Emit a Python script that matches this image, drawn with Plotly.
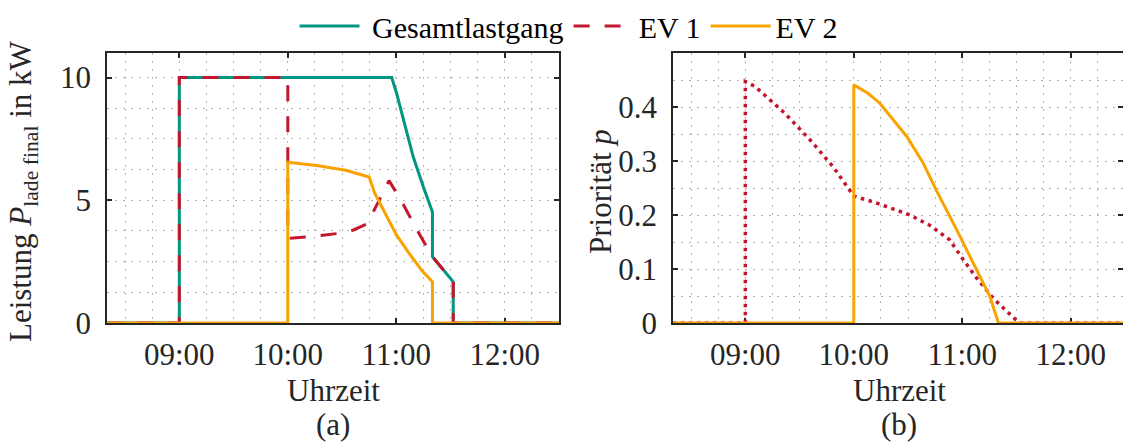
import plotly.graph_objects as go

DAY = "2023-06-01 "

# --- Ladeleistung in kW (links) ---
t_gesamt = ["08:20", "09:00", "09:00", "10:57:30", "11:00:15", "11:04", "11:09:24",
            "11:15", "11:20", "11:20", "11:31:30", "11:31:30", "12:30"]
p_gesamt = [0, 0, 10, 10, 9.34, 8.25, 6.76, 5.54, 4.52, 2.70, 1.68, 0, 0]

t_ev1 = ["08:20", "09:00", "09:00", "10:00", "10:00", "10:10", "10:28", "10:36",
         "10:44", "10:56", "11:03", "11:11", "11:20", "11:31:30", "11:31:30", "12:30"]
p_ev1 = [0, 0, 10, 10, 3.45, 3.5, 3.65, 3.78, 4.05, 5.8, 4.95, 3.85, 2.70, 1.68, 0, 0]

t_ev2 = ["08:20", "10:00", "10:00", "10:16", "10:32", "10:45", "10:48", "10:53",
         "11:00", "11:07", "11:14", "11:20", "11:20", "12:30"]
p_ev2 = [0, 0, 6.55, 6.42, 6.22, 5.95, 5.3, 4.6, 3.6, 2.85, 2.15, 1.68, 0, 0]

# --- Priorität p (rechts) ---
t_prio1 = ["08:20", "09:00", "09:00", "09:05:24", "09:22", "09:36:40", "09:48:36",
           "10:00", "10:12", "10:31", "10:42", "10:53", "11:00:36", "11:08", "11:17",
           "11:31:30", "12:30"]
prio1 = [0, 0, 0.447, 0.438, 0.388, 0.336, 0.289, 0.235, 0.223, 0.200, 0.181,
         0.154, 0.117, 0.083, 0.046, 0, 0]

t_prio2 = ["08:20", "10:00", "10:00", "10:08", "10:14:24", "10:29:24", "10:38:24",
           "10:45:36", "10:57", "11:08", "11:15:18", "11:20", "12:30"]
prio2 = [0, 0, 0.441, 0.425, 0.407, 0.345, 0.296, 0.246, 0.172, 0.098, 0.049, 0, 0]

y1_ticks = [0, 5, 10]
y2_ticks = [0, 0.1, 0.2, 0.3, 0.4]
y2_labels = ["0", "0.1", "0.2", "0.3", "0.4"]

GREEN = "#009682"
RED = "#C3172D"
ORANGE = "#FAA300"
AXC = "#262626"
GRIDC = "#b4b4b4"
FONT = "Liberation Serif"
FS = 31

W, H = 1123, 443


def ts(lst):
    return [DAY + s for s in lst]


fig = go.Figure()

fig.add_trace(go.Scatter(x=ts(t_gesamt), y=p_gesamt, mode="lines", name=" Gesamtlastgang",
                         line=dict(color=GREEN, width=3), cliponaxis=False,
                         xaxis="x", yaxis="y"))
fig.add_trace(go.Scatter(x=ts(t_ev1), y=p_ev1, mode="lines", name="EV 1",
                         line=dict(color=RED, width=3, dash="16px,15px"), cliponaxis=False,
                         xaxis="x", yaxis="y"))
fig.add_trace(go.Scatter(x=ts(t_ev2), y=p_ev2, mode="lines", name="EV 2",
                         line=dict(color=ORANGE, width=3), cliponaxis=False,
                         xaxis="x", yaxis="y"))

fig.add_trace(go.Scatter(x=ts(t_prio1), y=prio1, mode="lines", showlegend=False,
                         line=dict(color=RED, width=3.5, dash="3.5px,4.5px"), cliponaxis=False,
                         xaxis="x2", yaxis="y2"))
fig.add_trace(go.Scatter(x=ts(t_prio2), y=prio2, mode="lines", showlegend=False,
                         line=dict(color=ORANGE, width=3), cliponaxis=False,
                         xaxis="x2", yaxis="y2"))

# plot area geometry in pixels
L1, R1 = 107, 559
L2, R2 = 673, 1123
TOP, BOT = 53, 323
PX_PER_H = (R1 - L1) / (12.5 - 8 - 1 / 3)
x2_end_min = 30 - (1125 - R2) / PX_PER_H * 60  # minutes after 12:00
x2_end = DAY + "12:%02d:%02d" % (int(x2_end_min), round((x2_end_min % 1) * 60))


def dom_x(a, b):
    return [a / W, min(b / W, 1.0)]


ydom = [(H - BOT) / H, (H - TOP) / H]

grid_kw = dict(showgrid=True, gridcolor=GRIDC, gridwidth=1, griddash="2px,6px")

common_x = dict(
    type="date", tickformat="%H:%M", dtick=3600000, tick0=DAY + "00:00",
    ticks="inside", ticklen=5, tickwidth=1.5, tickcolor=AXC,
    showline=True, linecolor=AXC, linewidth=1.8, mirror="ticks",
    minor=dict(dtick=900000, tick0=DAY + "00:00", ticks="", **grid_kw),
    tickfont=dict(family=FONT, size=FS, color=AXC),
    zeroline=False, layer="below traces", ticklabelstandoff=3, automargin=False,
    **grid_kw,
)
common_y = dict(
    ticks="inside", ticklen=5, tickwidth=1.5, tickcolor=AXC,
    showline=True, linecolor=AXC, linewidth=1.8, mirror="ticks",
    tickfont=dict(family=FONT, size=FS, color=AXC),
    zeroline=False, layer="below traces", ticklabelstandoff=8, automargin=False,
    **grid_kw,
)

fig.update_layout(
    width=W, height=H,
    margin=dict(l=0, r=0, t=0, b=0, pad=0),
    paper_bgcolor="white", plot_bgcolor="white",
    xaxis=dict(common_x, domain=dom_x(L1, R1), anchor="y",
               range=[DAY + "08:20", DAY + "12:30"]),
    yaxis=dict(common_y, domain=ydom, anchor="x", range=[0, 11], tickvals=y1_ticks,
               minor=dict(dtick=1.25, ticks="", **grid_kw)),
    xaxis2=dict(common_x, domain=dom_x(L2, R2), anchor="y2",
                range=[DAY + "08:20", x2_end]),
    yaxis2=dict(common_y, domain=ydom, anchor="x2", range=[0, 0.5],
                tickvals=y2_ticks, ticktext=y2_labels,
                minor=dict(dtick=0.05, ticks="", **grid_kw)),
    legend=dict(orientation="h", x=569 / W, xanchor="center", y=1.0, yanchor="top",
                font=dict(family=FONT, size=30, color="black"),
                bgcolor="rgba(0,0,0,0)", itemwidth=60),
    showlegend=True,
)

annots = [
    dict(text="Leistung <i>P</i><sub>lade final</sub> in kW", x=23 / W, y=(H - 191) / H,
         textangle=-90, yanchor="middle"),
    dict(text="Priorität <i>p</i>", x=600 / W, y=(H - 192) / H, textangle=-90,
         yanchor="middle"),
    dict(text="Uhrzeit", x=(L1 + R1) / 2 / W, y=(H - 390) / H, yanchor="middle"),
    dict(text="Uhrzeit", x=(L2 + 1125) / 2 / W, y=(H - 390) / H, yanchor="middle"),
    dict(text="(a)", x=(L1 + R1) / 2 / W, y=0, yanchor="bottom"),
    dict(text="(b)", x=(L2 + 1125) / 2 / W, y=0, yanchor="bottom"),
]
for a in annots:
    fig.add_annotation(xref="paper", yref="paper", showarrow=False, xanchor="center",
                       borderpad=0, font=dict(family=FONT, size=FS, color=AXC), **a)

fig.write_html("out.html")
